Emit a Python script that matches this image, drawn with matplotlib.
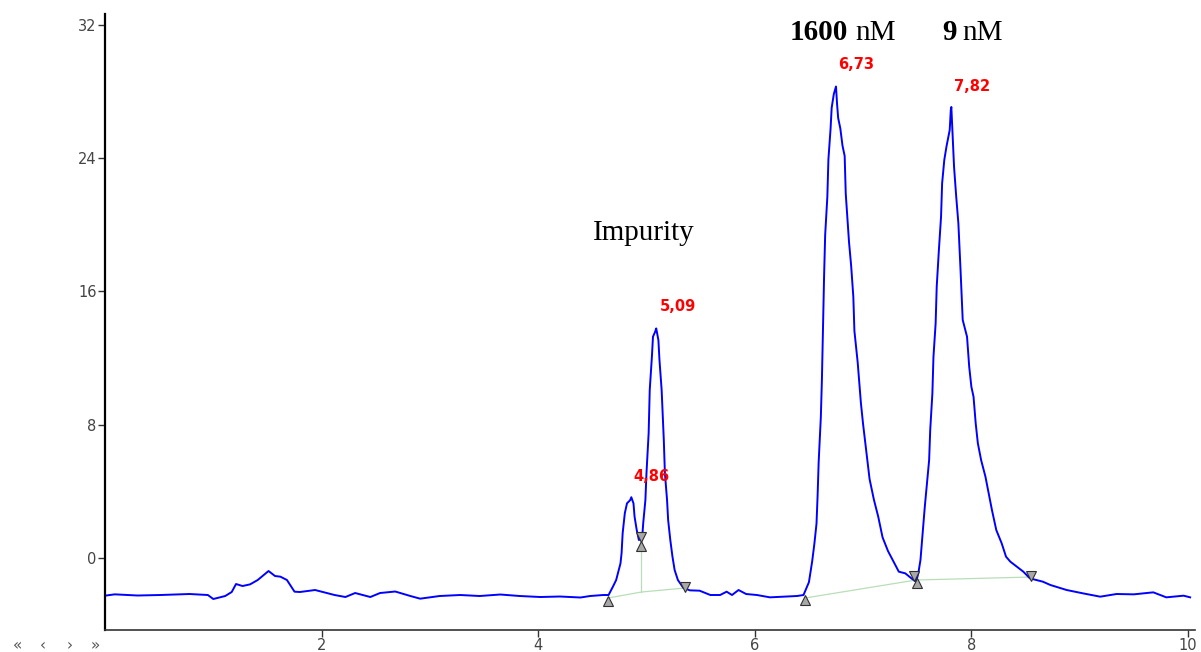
import matplotlib
matplotlib.use("Agg")
import matplotlib.pyplot as plt

# chromatogram trace (time in min, signal)
time = [0.00, 0.09, 0.30, 0.51, 0.78, 0.95, 1.00, 1.11, 1.17, 1.21, 1.27, 1.34, 1.41,
        1.51, 1.57, 1.62, 1.68, 1.75, 1.80, 1.94, 2.12, 2.22, 2.31, 2.45, 2.54, 2.68,
        2.82, 2.91, 3.09, 3.28, 3.46, 3.65, 3.83, 4.02, 4.20, 4.39, 4.48, 4.60, 4.65,
        4.69, 4.72, 4.76, 4.77, 4.78, 4.80, 4.82, 4.85, 4.86, 4.88, 4.89, 4.91, 4.93,
        4.96, 4.97, 4.99, 5.00, 5.02, 5.03, 5.05, 5.06, 5.08, 5.09, 5.11, 5.12, 5.14,
        5.16, 5.17, 5.19, 5.20, 5.22, 5.24, 5.26, 5.29, 5.34, 5.40, 5.49, 5.59, 5.68,
        5.74, 5.79, 5.85, 5.92, 6.02, 6.14, 6.26, 6.39, 6.45, 6.50, 6.53, 6.55, 6.57,
        6.58, 6.59, 6.61, 6.62, 6.63, 6.64, 6.65, 6.67, 6.68, 6.70, 6.71, 6.73, 6.75,
        6.76, 6.77, 6.79, 6.81, 6.83, 6.84, 6.87, 6.89, 6.91, 6.92, 6.95, 6.98, 7.00,
        7.03, 7.06, 7.10, 7.14, 7.18, 7.23, 7.28, 7.33, 7.39, 7.45, 7.49, 7.51, 7.53,
        7.55, 7.57, 7.59, 7.61, 7.62, 7.64, 7.65, 7.67, 7.68, 7.70, 7.72, 7.73, 7.75,
        7.77, 7.80, 7.81, 7.815, 7.83, 7.84, 7.86, 7.88, 7.90, 7.92, 7.96, 7.98, 8.00,
        8.02, 8.04, 8.06, 8.09, 8.13, 8.16, 8.19, 8.23, 8.28, 8.32, 8.36, 8.42, 8.48,
        8.54, 8.66, 8.73, 8.88, 9.03, 9.19, 9.34, 9.50, 9.68, 9.80, 9.96, 10.02]
signal = [-2.26, -2.18, -2.25, -2.22, -2.16, -2.22, -2.46, -2.28, -2.04, -1.56, -1.68, -1.58, -1.32,
          -0.78, -1.08, -1.12, -1.32, -2.02, -2.04, -1.92, -2.22, -2.34, -2.10, -2.34, -2.10, -2.01,
          -2.28, -2.44, -2.28, -2.22, -2.28, -2.19, -2.28, -2.34, -2.31, -2.37, -2.28, -2.22, -2.22,
          -1.72, -1.32, -0.32, 0.29, 1.49, 2.69, 3.28, 3.48, 3.65, 3.28, 2.48, 1.68, 1.08,
          1.20, 2.10, 3.48, 5.10, 7.50, 10.08, 12.08, 13.28, 13.58, 13.78, 13.08, 11.88, 10.08,
          7.08, 5.10, 3.48, 2.28, 1.08, 0.08, -0.72, -1.32, -1.79, -1.94, -1.96, -2.22, -2.22,
          -2.02, -2.22, -1.92, -2.16, -2.22, -2.36, -2.32, -2.28, -2.22, -1.45, -0.20, 0.84, 2.06,
          3.72, 5.77, 8.46, 10.73, 13.82, 16.92, 19.39, 21.67, 23.93, 25.78, 27.02, 27.85, 28.30,
          27.23, 26.41, 25.78, 24.75, 24.13, 21.87, 18.98, 17.53, 15.68, 13.63, 11.76, 9.30, 8.04,
          6.40, 4.74, 3.50, 2.48, 1.24, 0.42, -0.20, -0.82, -0.92, -1.24, -1.42, -0.92, -0.12,
          1.48, 3.08, 4.48, 5.88, 7.68, 9.88, 12.08, 14.08, 16.28, 18.48, 20.48, 22.49, 23.89,
          24.69, 25.69, 26.89, 27.07, 24.89, 23.49, 21.69, 20.09, 17.29, 14.29, 13.28, 11.48, 10.28,
          9.68, 8.08, 6.88, 5.88, 4.88, 3.88, 2.88, 1.68, 0.88, 0.08, -0.22, -0.52, -0.82,
          -1.22, -1.42, -1.62, -1.92, -2.12, -2.32, -2.16, -2.18, -2.06, -2.36, -2.26, -2.36]

# integration baselines (light green)
base1_t = [4.645, 4.954, 5.355]
base1_y = [-2.40, -2.04, -1.80]
drop_t = [4.954, 4.954]
drop_y = [-2.04, 0.80]
base2_t = [6.464, 7.489, 8.55]
base2_y = [-2.40, -1.32, -1.14]

# peak start / end markers
start_t = [4.645, 4.954, 6.464, 7.50]
start_y = [-2.55, 0.70, -2.50, -1.50]
end_t = [4.954, 5.355, 7.47, 8.55]
end_y = [1.25, -1.75, -1.10, -1.05]

# retention time labels
rt_labels = ['4,86', '5,09', '6,73', '7,82']
rt_t = [5.05, 5.29, 6.94, 8.01]
rt_y = [4.92, 15.07, 29.6, 28.27]

fig = plt.figure(figsize=(12.01, 6.52), dpi=100)
ax = fig.add_axes([105 / 1201, 22 / 652, 1090 / 1201, 616 / 652])

ax.plot(base1_t, base1_y, color='#b8deb8', lw=0.9, zorder=1)
ax.plot(drop_t, drop_y, color='#b8deb8', lw=0.9, zorder=1)
ax.plot(base2_t, base2_y, color='#b8deb8', lw=0.9, zorder=1)
ax.plot(time, signal, color='#0000ff', lw=1.4, zorder=2)
ax.plot(start_t, start_y, linestyle='none', marker='^', ms=6.5,
        mfc='#a8a8a8', mec='#303030', mew=0.8, zorder=3)
ax.plot(end_t, end_y, linestyle='none', marker='v', ms=6.5,
        mfc='#a8a8a8', mec='#303030', mew=0.8, zorder=3)

for lab, t, y in zip(rt_labels, rt_t, rt_y):
    ax.text(t, y, lab, color='red', fontsize=10.5, fontweight='bold',
            ha='center', va='center', zorder=4)

serif = 'Liberation Serif'
ax.text(6.325, 31.09, '1600', family=serif, fontsize=21, fontweight='bold', va='baseline')
ax.text(6.925, 31.09, 'nM', family=serif, fontsize=21, va='baseline')
ax.text(7.73, 31.09, '9', family=serif, fontsize=21, fontweight='bold', va='baseline')
ax.text(7.92, 31.09, 'nM', family=serif, fontsize=21, va='baseline')
ax.text(4.506, 19.09, 'Impurity', family=serif, fontsize=21, va='baseline')

ax.set_xlim(0, 10.065)
ax.set_ylim(-4.32, 32.65)
ax.set_xticks([2, 4, 6, 8, 10])
ax.set_yticks([0, 8, 16, 24, 32])
ax.spines['top'].set_visible(False)
ax.spines['right'].set_visible(False)
ax.spines['left'].set_linewidth(1.6)
ax.spines['bottom'].set_linewidth(1.2)
ax.spines['bottom'].set_color('#333333')
ax.tick_params(axis='both', direction='out', length=5, width=1, color='#333333',
               labelcolor='#444444', labelsize=10.5)
ax.tick_params(axis='x', pad=1)
ax.tick_params(axis='y', pad=1)

# navigation arrows at bottom left
for sym, px in zip(['«', '‹', '›', '»'], [17, 43, 70, 95]):
    fig.text(px / 1201, 6 / 652, sym, color='#555555', fontsize=11,
             ha='center', va='center')

fig.savefig('out.png', dpi=100)
